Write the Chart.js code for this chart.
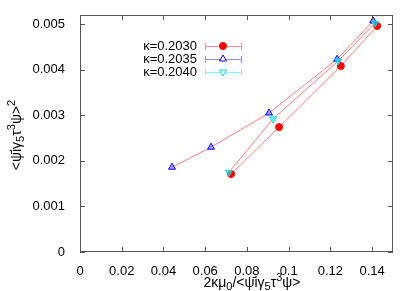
<!DOCTYPE html>
<html>
<head>
<meta charset="utf-8">
<script src="https://cdn.jsdelivr.net/npm/chart.js@4/dist/chart.umd.min.js"></script>
<style>
  body { margin: 0; background: #fff; }
  #wrap { width: 415px; height: 291px; }
</style>
</head>
<body>
<div id="wrap"><canvas id="chart" width="415" height="291"></canvas></div>
<script>
// ---- data ----
const seriesLabels = ['κ=0.2030', 'κ=0.2035', 'κ=0.2040'];

const x2030 = [0.0724, 0.0954, 0.1250, 0.1424];
const y2030 = [0.00171, 0.00274, 0.00408, 0.00496];

const x2035 = [0.0441, 0.0628, 0.0906, 0.1232, 0.1405];
const y2035 = [0.00186, 0.00230, 0.00305, 0.00423, 0.00507];

const x2040 = [0.0714, 0.0925, 0.1237, 0.1414];
const y2040 = [0.00175, 0.00292, 0.00419, 0.00502];

const xTicks = [0, 0.02, 0.04, 0.06, 0.08, 0.1, 0.12, 0.14];
const yTicks = [0, 0.001, 0.002, 0.003, 0.004, 0.005];

const FONT = '"Liberation Sans", Arial, sans-serif';

function pts(xs, ys) {
  return xs.map((x, i) => ({ x: x, y: ys[i] }));
}

const legendLine = ['rgb(255,140,140)', 'rgb(140,140,255)', 'rgb(120,255,255)'];

// gnuplot-ish frame, inward ticks, legend and rich-text axis titles
const gnuFrame = {
  id: 'gnuFrame',
  afterDraw(chart) {
    const ctx = chart.ctx;
    const a = chart.chartArea;
    const xs = chart.scales.x, ys = chart.scales.y;
    ctx.save();

    // border
    ctx.strokeStyle = '#555';
    ctx.lineWidth = 1;
    ctx.strokeRect(a.left + 0.5, a.top + 0.5, a.right - a.left - 1, a.bottom - a.top - 1);

    // inward ticks on all four sides
    ctx.beginPath();
    xs.ticks.forEach(t => {
      const px = Math.round(xs.getPixelForValue(t.value)) + 0.5;
      ctx.moveTo(px, a.bottom); ctx.lineTo(px, a.bottom - 5);
      ctx.moveTo(px, a.top); ctx.lineTo(px, a.top + 5);
    });
    ys.ticks.forEach(t => {
      const py = Math.round(ys.getPixelForValue(t.value)) + 0.5;
      ctx.moveTo(a.left, py); ctx.lineTo(a.left + 5, py);
      ctx.moveTo(a.right, py); ctx.lineTo(a.right - 5, py);
    });
    ctx.stroke();

    // legend
    chart.data.datasets.forEach((ds, i) => {
      const y = 46 + 13 * i;
      ctx.fillStyle = '#000';
      ctx.font = '13px ' + FONT;
      ctx.textAlign = 'right';
      ctx.textBaseline = 'middle';
      ctx.fillText(ds.label, 197, y);
      ctx.beginPath();
      ctx.strokeStyle = legendLine[i];
      ctx.lineWidth = 1;
      ctx.moveTo(205, y + 0.5); ctx.lineTo(242, y + 0.5);
      ctx.moveTo(205.5, y - 3); ctx.lineTo(205.5, y + 4);
      ctx.moveTo(241.5, y - 3); ctx.lineTo(241.5, y + 4);
      ctx.stroke();
      ctx.strokeStyle = ds.pointBorderColor;
      ctx.fillStyle = i === 0 ? ds.pointBackgroundColor : '#ffffff';
      Chart.helpers.drawPoint(ctx, {
        pointStyle: ds.pointStyle,
        radius: ds.pointRadius,
        rotation: ds.pointRotation || 0,
        borderWidth: 1
      }, 223, y);
    });

    // axis titles with sub/superscripts
    const xTitle = [['2κμ', 0], ['0', -1], ['/<ψ̄iγ', 0], ['5', -1], ['τ', 0], ['3', 1], ['ψ>', 0]];
    const yTitle = [['<ψ̄iγ', 0], ['5', -1], ['τ', 0], ['3', 1], ['ψ>', 0], ['2', 1]];
    drawRich(ctx, xTitle, 252, 287, 0);
    drawRich(ctx, yTitle, 135, 21, -Math.PI / 2);

    ctx.restore();
  }
};

// cx: centre along the text direction, base: baseline position across it
function drawRich(ctx, parts, cx, base, rot) {
  const big = '14px ' + FONT, small = '11px ' + FONT;
  let total = 0;
  parts.forEach(p => {
    ctx.font = p[1] === 0 ? big : small;
    total += ctx.measureText(p[0]).width;
  });
  ctx.save();
  if (rot) {
    ctx.translate(base, cx);
    ctx.rotate(rot);
  } else {
    ctx.translate(cx, base);
  }
  ctx.fillStyle = '#000';
  ctx.textAlign = 'left';
  ctx.textBaseline = 'alphabetic';
  let x = -total / 2;
  parts.forEach(p => {
    ctx.font = p[1] === 0 ? big : small;
    const dy = p[1] === 1 ? -6 : (p[1] === -1 ? 3 : 0);
    ctx.fillText(p[0], x, dy);
    x += ctx.measureText(p[0]).width;
  });
  ctx.restore();
}

const ctx = document.getElementById('chart').getContext('2d');

new Chart(ctx, {
  type: 'scatter',
  data: {
    datasets: [
      {
        label: seriesLabels[0],
        data: pts(x2030, y2030),
        showLine: true,
        borderColor: 'rgb(255,120,120)',
        borderWidth: 1,
        pointStyle: 'circle',
        pointRadius: 3.5,
        pointBackgroundColor: '#ff0000',
        pointBorderColor: '#ff0000',
        order: 3
      },
      {
        label: seriesLabels[1],
        data: pts(x2035, y2035),
        showLine: true,
        borderColor: 'rgb(255,120,120)',
        borderWidth: 1,
        pointStyle: 'triangle',
        pointRadius: 4,
        pointBackgroundColor: 'rgba(110,110,255,0.6)',
        pointBorderColor: '#0000ff',
        order: 2
      },
      {
        label: seriesLabels[2],
        data: pts(x2040, y2040),
        showLine: true,
        borderColor: 'rgb(255,120,120)',
        borderWidth: 1,
        pointStyle: 'triangle',
        pointRotation: 180,
        pointRadius: 4,
        pointBackgroundColor: 'rgba(0,255,255,0.5)',
        pointBorderColor: '#00dddd',
        order: 1
      }
    ]
  },
  options: {
    responsive: false,
    animation: false,
    layout: { padding: { left: 0, right: 22, top: 15, bottom: 0 } },
    plugins: {
      legend: { display: false },
      tooltip: { enabled: false }
    },
    scales: {
      x: {
        type: 'linear',
        min: 0,
        max: 0.15,
        grid: { display: false },
        border: { display: false },
        afterBuildTicks: s => { s.ticks = xTicks.map(v => ({ value: v })); },
        afterFit: s => { s.height = 39; },
        ticks: {
          color: '#000',
          font: { family: FONT, size: 13 },
          padding: 4,
          maxRotation: 0,
          autoSkip: false,
          callback: v => String(+v.toFixed(2))
        }
      },
      y: {
        type: 'linear',
        min: 0,
        max: 0.0052,
        grid: { display: false },
        border: { display: false },
        afterBuildTicks: s => { s.ticks = yTicks.map(v => ({ value: v })); },
        afterFit: s => { s.width = 80; },
        ticks: {
          color: '#000',
          font: { family: FONT, size: 13 },
          padding: 7,
          autoSkip: false,
          callback: v => String(+v.toFixed(3))
        }
      }
    }
  },
  plugins: [gnuFrame]
});
</script>
</body>
</html>
